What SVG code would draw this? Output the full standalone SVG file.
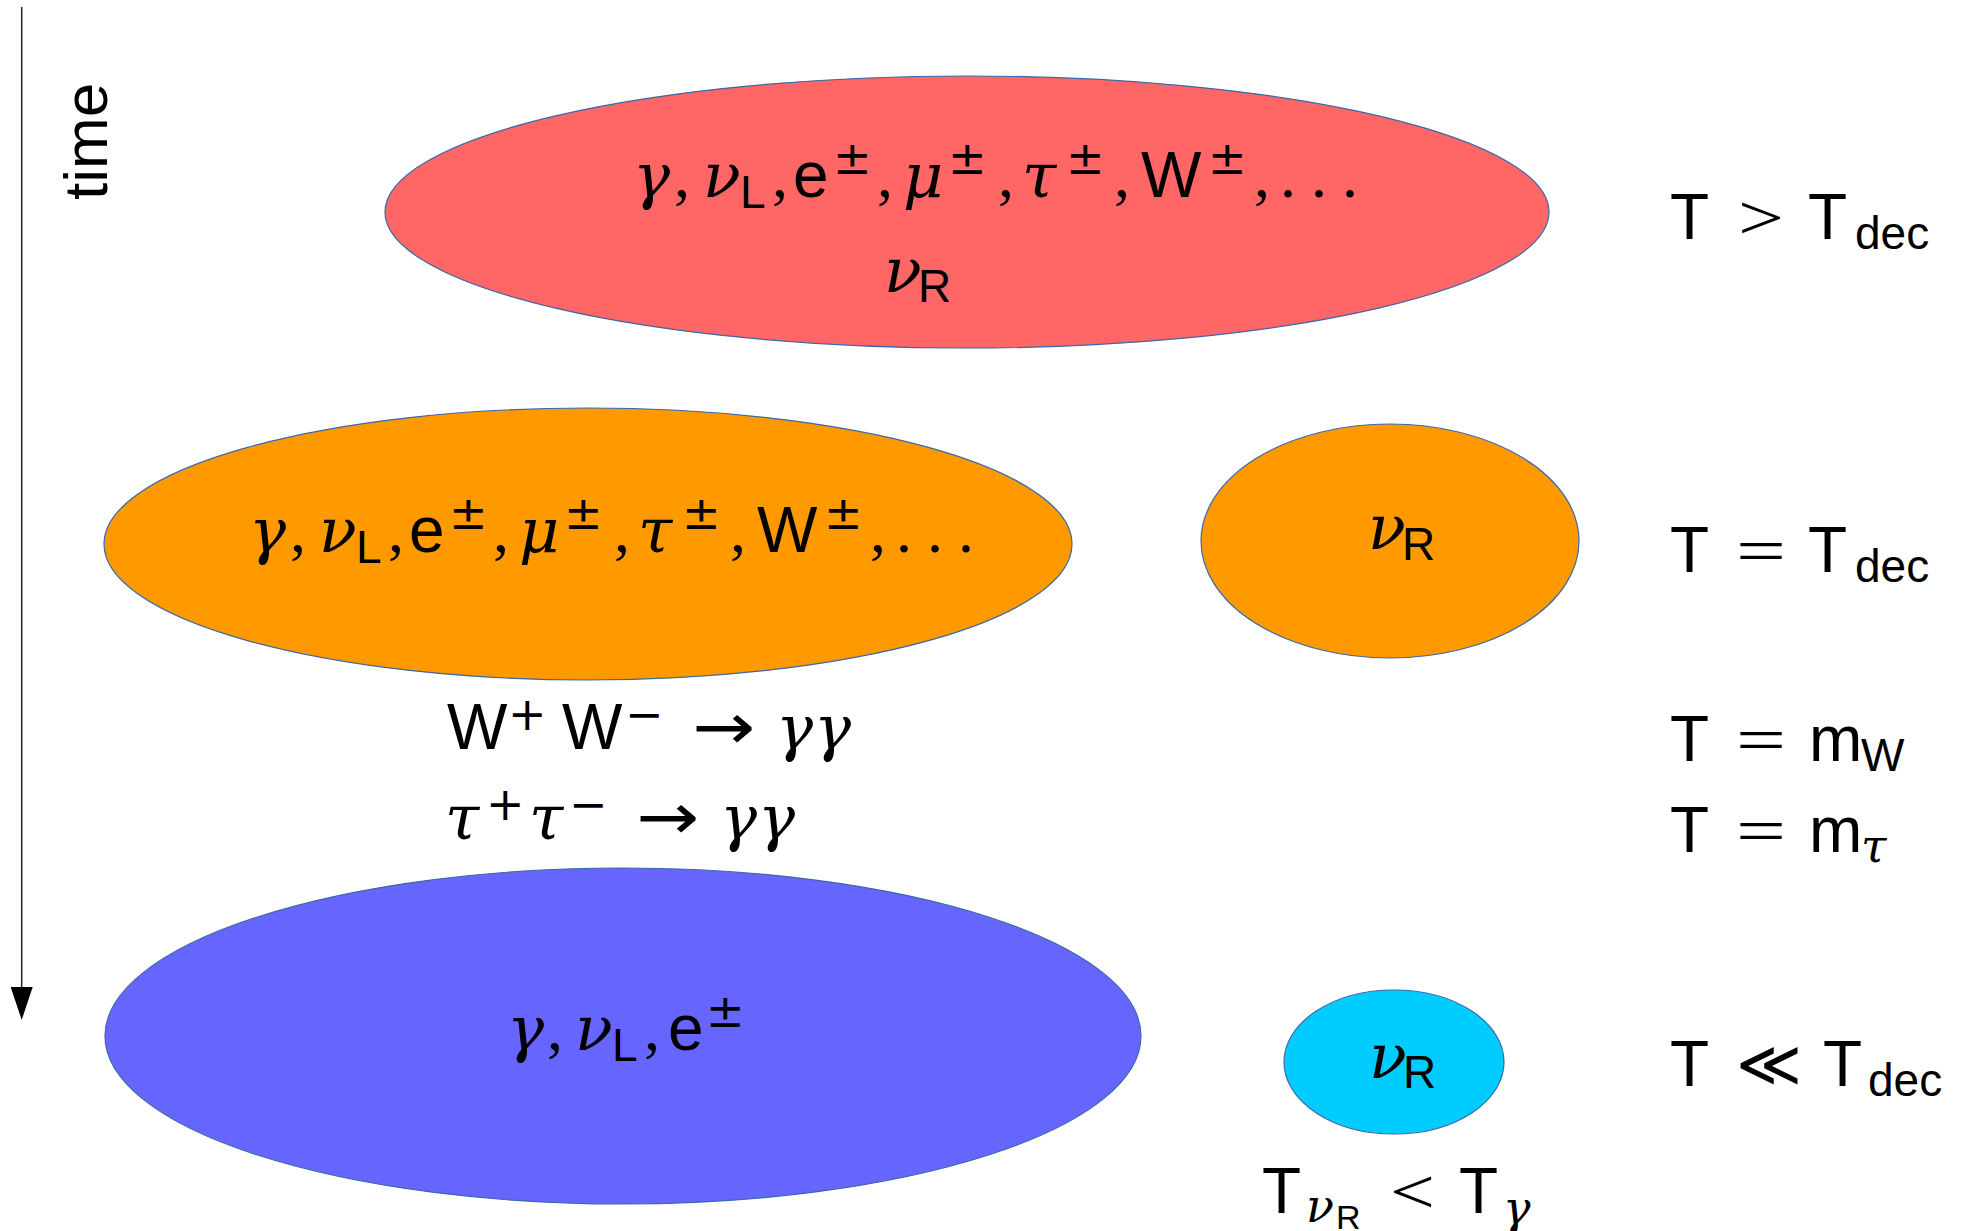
<svg xmlns="http://www.w3.org/2000/svg" width="1962" height="1231" viewBox="0 0 1962 1231">
<defs>
<style>
.sf{font-family:"Liberation Sans",Arial,sans-serif;}
.gr{font-family:"DejaVu Serif","Liberation Serif",serif;font-style:italic;}
.rm{font-family:"Liberation Serif","DejaVu Serif",serif;}
.dj{font-family:"DejaVu Sans",sans-serif;}
.pm{font-family:"DejaVu Sans",sans-serif;}
text{fill:#000;font-size:64px;}
.g{font-size:62px;}
.s{font-size:46px;}
.ss{font-size:34px;}
.node{stroke:#3a68a8;stroke-width:1.2;}
</style>
<marker id="ah" markerUnits="userSpaceOnUse" markerWidth="33" markerHeight="22" refX="0" refY="11" orient="auto" viewBox="0 0 33 22">
<path d="M0,0 L33,11 L0,22 z" fill="#000"/>
</marker>
</defs>
<rect width="1962" height="1231" fill="#fff"/>

<g id="connectors">
<line x1="21.7" y1="7" x2="21.7" y2="987" stroke="#222" stroke-width="1.5" marker-end="url(#ah)"/>
</g>

<g id="time-label">
<text class="sf" style="font-size:62px" transform="translate(107,200) rotate(-90)">time</text>
</g>

<g id="node-hot">
<ellipse class="node" cx="967" cy="212" rx="582" ry="136" fill="#ff6666"/>
<text>
<tspan class="gr g" x="633" y="197">γ</tspan><tspan class="rm" x="674" y="197">,</tspan>
<tspan class="gr g" x="703" y="197">ν</tspan><tspan class="sf s" x="740" y="208">L</tspan><tspan class="rm" x="772" y="197">,</tspan>
<tspan class="sf" x="793" y="197">e</tspan><tspan class="pm s" x="833" y="174">±</tspan><tspan class="rm" x="877" y="197">,</tspan>
<tspan class="gr g" x="903" y="197">μ</tspan><tspan class="pm s" x="948" y="174">±</tspan><tspan class="rm" x="998" y="197">,</tspan>
<tspan class="gr g" x="1022" y="197">τ</tspan><tspan class="pm s" x="1066" y="174">±</tspan><tspan class="rm" x="1114" y="197">,</tspan>
<tspan class="sf" x="1141" y="197">W</tspan><tspan class="pm s" x="1208" y="174">±</tspan><tspan class="rm" x="1254" y="197">,</tspan>
<tspan class="rm" x="1280" y="197">.</tspan><tspan class="rm" x="1311" y="197">.</tspan><tspan class="rm" x="1342" y="197">.</tspan>
</text>
<text><tspan class="gr g" x="884" y="292">ν</tspan><tspan class="sf s" x="918" y="302">R</tspan></text>
</g>

<g id="node-dec-bath">
<ellipse class="node" cx="588" cy="544" rx="484" ry="136" fill="#ff9900"/>
<text>
<tspan class="gr g" x="249" y="552">γ</tspan><tspan class="rm" x="290" y="552">,</tspan>
<tspan class="gr g" x="319" y="552">ν</tspan><tspan class="sf s" x="356" y="563">L</tspan><tspan class="rm" x="388" y="552">,</tspan>
<tspan class="sf" x="409" y="552">e</tspan><tspan class="pm s" x="449" y="529">±</tspan><tspan class="rm" x="493" y="552">,</tspan>
<tspan class="gr g" x="519" y="552">μ</tspan><tspan class="pm s" x="564" y="529">±</tspan><tspan class="rm" x="614" y="552">,</tspan>
<tspan class="gr g" x="638" y="552">τ</tspan><tspan class="pm s" x="682" y="529">±</tspan><tspan class="rm" x="730" y="552">,</tspan>
<tspan class="sf" x="757" y="552">W</tspan><tspan class="pm s" x="824" y="529">±</tspan><tspan class="rm" x="870" y="552">,</tspan>
<tspan class="rm" x="896" y="552">.</tspan><tspan class="rm" x="927" y="552">.</tspan><tspan class="rm" x="958" y="552">.</tspan>
</text>
</g>

<g id="node-dec-nuR">
<ellipse class="node" cx="1390" cy="541" rx="189" ry="117" fill="#ff9900"/>
<text><tspan class="gr g" x="1368" y="549">ν</tspan><tspan class="sf s" x="1402" y="560">R</tspan></text>
</g>

<g id="node-cold-bath">
<ellipse class="node" cx="623" cy="1036" rx="518" ry="168" fill="#6666ff"/>
<text>
<tspan class="gr g" x="507" y="1050">γ</tspan><tspan class="rm" x="547" y="1050">,</tspan>
<tspan class="gr g" x="575" y="1050">ν</tspan><tspan class="sf s" x="612" y="1061">L</tspan><tspan class="rm" x="644" y="1050">,</tspan>
<tspan class="sf" x="668" y="1050">e</tspan><tspan class="pm s" x="706" y="1027">±</tspan>
</text>
</g>

<g id="node-cold-nuR">
<ellipse class="node" cx="1394" cy="1062" rx="110" ry="72" fill="#00ccff"/>
<text><tspan class="gr g" x="1369" y="1078">ν</tspan><tspan class="sf s" x="1403" y="1088">R</tspan></text>
</g>

<g id="reactions">
<text>
<tspan class="sf" x="447" y="749">W</tspan><tspan class="dj s" x="508" y="730">+</tspan>
<tspan class="sf" x="562" y="749">W</tspan><tspan class="dj s" x="625" y="730">−</tspan>
</text>
<text class="dj" x="692" y="749" textLength="63" lengthAdjust="spacingAndGlyphs">→</text>
<text><tspan class="gr g" x="776" y="749">γ</tspan><tspan class="gr g" x="814" y="749">γ</tspan></text>
<text>
<tspan class="gr g" x="445" y="839">τ</tspan><tspan class="dj s" x="486" y="820">+</tspan>
<tspan class="gr g" x="529" y="839">τ</tspan><tspan class="dj s" x="569" y="820">−</tspan>
</text>
<text class="dj" x="636" y="839" textLength="63" lengthAdjust="spacingAndGlyphs">→</text>
<text><tspan class="gr g" x="720" y="839">γ</tspan><tspan class="gr g" x="758" y="839">γ</tspan></text>
</g>

<g id="label-T-gt">
<text class="sf" x="1670" y="239">T</text>
<text class="rm" x="1738" y="239" textLength="46" lengthAdjust="spacingAndGlyphs">&gt;</text>
<text><tspan class="sf" x="1808" y="239">T</tspan><tspan class="sf s" x="1855" y="249">dec</tspan></text>
</g>

<g id="label-T-eq">
<text class="sf" x="1670" y="572">T</text>
<text class="rm" x="1736" y="572" textLength="50" lengthAdjust="spacingAndGlyphs">=</text>
<text><tspan class="sf" x="1808" y="572">T</tspan><tspan class="sf s" x="1855" y="582">dec</tspan></text>
</g>

<g id="label-T-mW">
<text class="sf" x="1670" y="761">T</text>
<text class="rm" x="1736" y="761" textLength="50" lengthAdjust="spacingAndGlyphs">=</text>
<text><tspan class="sf" x="1809" y="761">m</tspan><tspan class="sf s" x="1861" y="771">W</tspan></text>
</g>

<g id="label-T-mtau">
<text class="sf" x="1670" y="852">T</text>
<text class="rm" x="1736" y="852" textLength="50" lengthAdjust="spacingAndGlyphs">=</text>
<text><tspan class="sf" x="1809" y="852">m</tspan><tspan class="gr s" x="1861" y="862">τ</tspan></text>
</g>

<g id="label-T-ll">
<text class="sf" x="1670" y="1086">T</text>
<text class="rm" x="1736" y="1086" textLength="66" lengthAdjust="spacingAndGlyphs">≪</text>
<text><tspan class="sf" x="1823" y="1086">T</tspan><tspan class="sf s" x="1868" y="1096">dec</tspan></text>
</g>

<g id="label-Tnu-lt">
<text><tspan class="sf" x="1262" y="1213">T</tspan><tspan class="gr s" x="1306" y="1222">ν</tspan><tspan class="sf ss" x="1336" y="1229">R</tspan></text>
<text class="rm" x="1390" y="1213" textLength="45" lengthAdjust="spacingAndGlyphs">&lt;</text>
<text><tspan class="sf" x="1459" y="1213">T</tspan><tspan class="gr s" x="1503" y="1224">γ</tspan></text>
</g>
</svg>
